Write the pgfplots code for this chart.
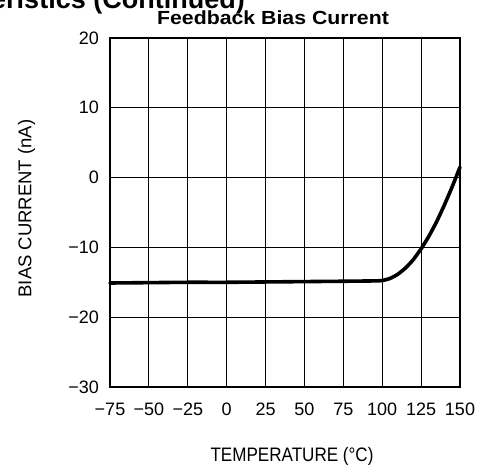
\documentclass[border=0pt]{standalone}
\usepackage{fontspec}
\setmainfont{Liberation Sans}
\usepackage{pgfplots}
\pgfplotsset{compat=1.18}
\begin{document}
\begin{tikzpicture}[x=1pt,y=1pt]
\begin{axis}[
  at={(0,0)}, anchor=south west,
  width=350pt, height=349pt, scale only axis,
  xmin=-75, xmax=150, ymin=-30, ymax=20,
  xtick={-75,-50,-25,0,25,50,75,100,125,150},
  ytick={-30,-20,-10,0,10,20},
  xticklabels={−75,−50,−25,0,25,50,75,100,125,150},
  yticklabels={−30,−20,−10,0,10,20},
  grid=major,
  major grid style={black, line width=1.1pt},
  axis line style={line width=1.5pt},
  tick style={draw=none},
  ticklabel style={font=\fontsize{18}{18}\selectfont, inner sep=0pt},
  xticklabel style={anchor=north, yshift=-16pt},
  yticklabel style={anchor=east, xshift=-11pt},
  clip=false,
]
\addplot[black, line width=3.6pt, line join=round, line cap=round, smooth, tension=0.3] coordinates {
(-75,-15.1) (-50,-15.05) (-25,-15.0) (0,-15.0) (25,-14.95) (50,-14.9) (75,-14.85)
(95,-14.8) (100,-14.75) (105,-14.45) (110,-13.85) (115,-12.95) (120,-11.75)
(125,-10.2) (130,-8.4) (135,-6.3) (140,-3.9) (145,-1.3) (150,1.5)
};
\end{axis}
\begin{scope}
\clip (-110,-82) rectangle (375,387);
\node[anchor=base east, inner sep=0pt, font=\fontsize{27}{27}\selectfont\bfseries] at (135,378) {Typical Performance Characteristics (Continued)};
\end{scope}
\node[anchor=base, inner sep=0pt, font=\fontsize{19}{19}\selectfont\bfseries] at (163,362) {\scalebox{1.12}[1]{Feedback Bias Current}};
\node[anchor=center, inner sep=0pt, font=\fontsize{19.5}{19.5}\selectfont] at (182,-69) {\scalebox{0.875}[1]{TEMPERATURE (°C)}};
\node[anchor=center, inner sep=0pt, rotate=90, font=\fontsize{18.5}{18.5}\selectfont] at (-83.5,178.5) {BIAS CURRENT (nA)};
\pgfresetboundingbox
\useasboundingbox (-110,-82) rectangle (375,387);
\end{tikzpicture}
\end{document}
